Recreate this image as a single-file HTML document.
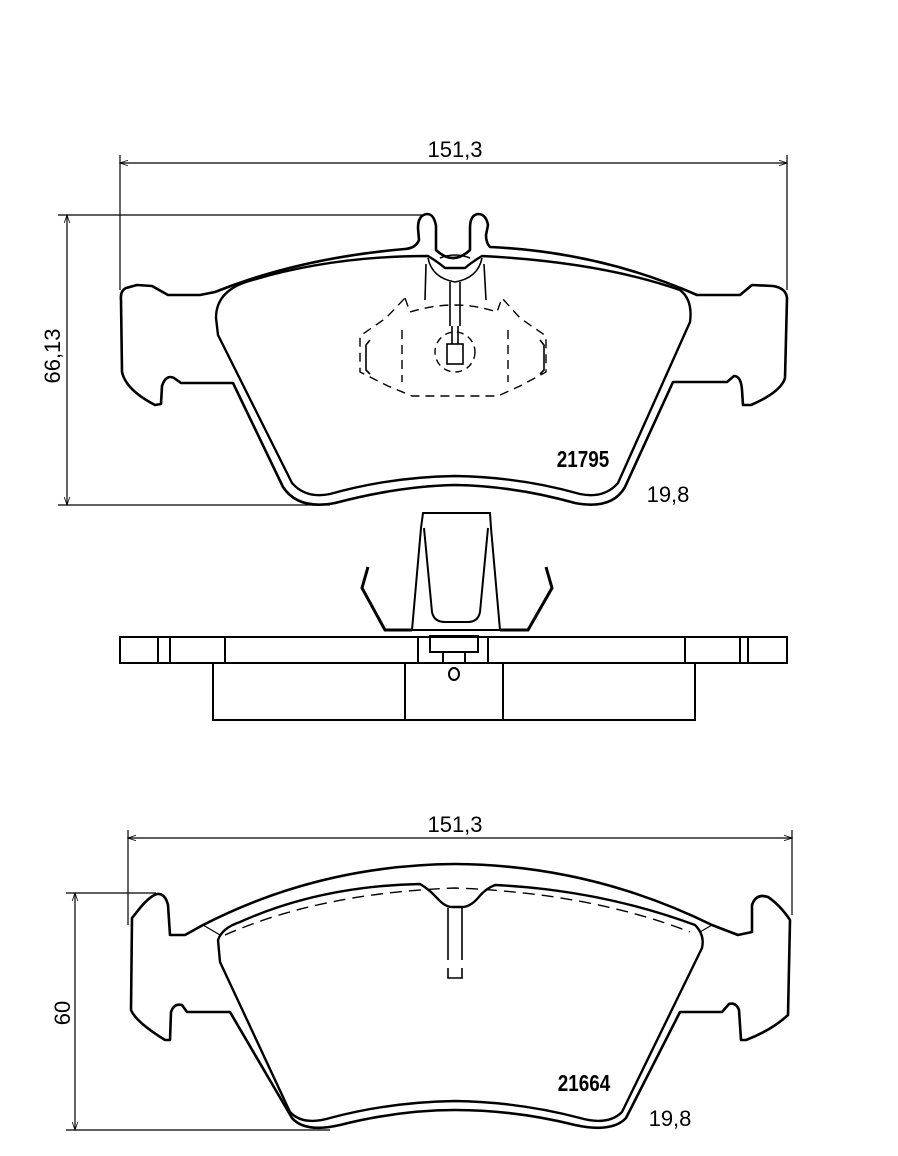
<!DOCTYPE html>
<html><head><meta charset="utf-8"><style>
html,body{margin:0;padding:0;background:#fff;}
svg{display:block;}
text{font-family:"Liberation Sans",sans-serif;fill:#000;}
</style></head><body>
<svg width="898" height="1156" viewBox="0 0 898 1156" xmlns="http://www.w3.org/2000/svg">
<defs>
<marker id="a" viewBox="0 0 10 10" refX="10" refY="5" markerWidth="10" markerHeight="8" orient="auto-start-reverse" markerUnits="userSpaceOnUse"><path d="M0,1.5 L10,5 L0,8.5" fill="none" stroke="#000" stroke-width="1"/></marker>
</defs>
<g fill="none" stroke="#000">
<line x1="120" y1="163" x2="787" y2="163" stroke-width="1.2" marker-start="url(#a)" marker-end="url(#a)"/>
<line x1="120" y1="155" x2="120" y2="290" stroke-width="1.2"/>
<line x1="787" y1="155" x2="787" y2="290" stroke-width="1.2"/>
<line x1="67" y1="215" x2="67" y2="505" stroke-width="1.2" marker-start="url(#a)" marker-end="url(#a)"/>
<line x1="58" y1="215" x2="425" y2="215" stroke-width="1.2"/>
<line x1="58" y1="505" x2="330" y2="505" stroke-width="1.2"/>

<path stroke-width="2.6" stroke-linejoin="round" d="M137,285 L126,288 Q120,291 121,300 L122,372 Q126,390 155,405 L161,404 L162,386 Q166,374 174,378 L181,383 L233,383 L283,487 Q298,510 335,503 Q400,486 455,485 Q515,486 575,503 Q612,510 625,487 L673,382 L727,382 L734,376 Q741,376 742,390 L743,405 L751,405 Q781,392 785,378 L787,298 Q786,288 773,286 L752,285 L740,295 L697,295 Q600,252 490,247 Q486,243 486,235 L488,225 Q486,214 478,214 Q470,215 470,228 L470,250 Q453,266 436,250 L436,226 Q434,214 427,214 Q418,215 418,228 L419,240 Q416,248 405,249 Q300,258 215,292 L200,295 L168,295 L152,286 Z"/>
<path stroke-width="2.4" stroke-linejoin="round" d="M216,318 Q216,292 246,282 Q330,256 428,256 Q438,262 445,268 L465,268 Q472,262 482,256 Q600,262 680,290 Q693,300 690,322 L618,483 Q604,499 580,494 Q520,477 455,476 Q390,477 330,494 Q306,499 292,483 L218,335 Z"/>
<path stroke-width="1.6" d="M428,258 Q432,278 455,282 Q478,278 482,258"/>
<path stroke-width="1.6" d="M440,258 Q455,252 470,258"/>
<path stroke-width="1.6" d="M450,282 L450,326 M460,282 L460,326"/>
<path stroke-width="1.6" d="M426,264 L425,300 M484,264 L486,300"/>
<g stroke-width="1.4" stroke-dasharray="9,6">
<path d="M405,298 L410,312 Q455,298 497,312 L502,298 L520,318 L546,336 L546,372 L520,386 L498,396 L412,396 L388,386 L360,372 L360,336 L386,318 Z"/>
<path d="M402,330 L402,382 M508,330 L508,382"/>
<circle cx="455" cy="352" r="20" stroke-dasharray="7,5"/>
</g>
<rect x="447" y="344" width="16" height="20" stroke-width="1.6"/>
<path stroke-width="1.6" d="M452,326 L452,344 M458,326 L458,344"/>
<path stroke-width="1.6" d="M370,340 L366,345 L366,370 L370,374 M540,340 L544,345 L544,370 L540,374"/>
</g>
<text x="455" y="157" font-size="22" text-anchor="middle">151,3</text>
<text x="0" y="0" font-size="22" text-anchor="middle" transform="translate(60,356) rotate(-90)">66,13</text>
<text x="583" y="467" font-size="23" font-weight="bold" text-anchor="middle" transform="translate(583,0) scale(0.82,1) translate(-583,0)">21795</text>
<text x="668" y="502" font-size="22" text-anchor="middle">19,8</text>

<g fill="none" stroke="#000" stroke-width="2">
<rect x="120" y="637" width="667" height="26"/>
<path d="M158,637V663 M170,637V663 M225,637V663 M418,637V663 M488,637V663 M685,637V663 M740,637V663 M748,637V663"/>
<rect x="213" y="663" width="482" height="57"/>
<path d="M405,663V720 M503,663V720"/>
<rect x="430" y="636" width="48" height="16"/>
<rect x="443" y="652" width="22" height="11"/>
<ellipse cx="454" cy="674" rx="5" ry="6"/>
<path d="M423,513 L490,513 L491,528 L500,630 L412,630 L421,528 Z"/>
<path d="M424,528 L432,612 Q434,622 445,622 L468,622 Q478,622 480,612 L488,528"/>
<path d="M368,567 L362,588 L385,630 L412,630 M546,567 L552,588 L528,630 L500,630" stroke-width="3"/>
</g>

<g fill="none" stroke="#000">
<line x1="128" y1="838" x2="792" y2="838" stroke-width="1.2" marker-start="url(#a)" marker-end="url(#a)"/>
<line x1="128" y1="830" x2="128" y2="925" stroke-width="1.2"/>
<line x1="792" y1="830" x2="792" y2="915" stroke-width="1.2"/>
<line x1="75" y1="893" x2="75" y2="1130" stroke-width="1.2" marker-start="url(#a)" marker-end="url(#a)"/>
<line x1="66" y1="893" x2="156" y2="893" stroke-width="1.2"/>
<line x1="66" y1="1130" x2="330" y2="1130" stroke-width="1.2"/>

<path stroke-width="2.6" stroke-linejoin="round" d="M157,894 Q150,896 140,908 L132,918 L131,1010 Q136,1022 165,1040 L170,1040 L171,1012 Q174,1003 182,1005 L187,1012 L230,1012 L292,1118 Q305,1133 340,1125 Q400,1110 455,1110 Q515,1110 575,1125 Q612,1133 626,1118 L680,1012 L722,1012 L729,1004 Q736,1002 739,1010 L741,1040 L746,1040 Q772,1030 788,1015 L790,920 Q780,905 768,897 Q756,893 752,905 L752,932 L738,935 L712,925 Q590,865 455,864 Q320,865 203,925 L185,935 L170,935 L168,905 Q165,893 157,894 Z"/>
<path stroke-width="2.4" stroke-linejoin="round" d="M218,940 Q222,928 240,922 Q320,886 420,884 Q430,890 437,898 Q445,907 452,907 L462,907 Q470,907 478,898 Q485,889 495,885 Q600,890 695,925 Q705,935 702,948 L622,1112 Q608,1126 580,1118 Q520,1102 455,1101 Q390,1102 330,1118 Q303,1126 290,1112 L220,962 Z"/>
<path stroke-width="1.4" stroke-dasharray="12,7" d="M225,935 Q320,893 455,888 Q590,893 690,932"/>
<path stroke-width="1.2" d="M203,925 L220,935 M712,925 L700,932"/>
<path stroke-width="1.6" d="M448,908 L448,960 M462,908 L462,960 M448,968 L448,978 L462,978 L462,968"/>
</g>
<text x="455" y="832" font-size="22" text-anchor="middle">151,3</text>
<text x="0" y="0" font-size="22" text-anchor="middle" transform="translate(70,1013) rotate(-90)">60</text>
<text x="584" y="1091" font-size="23" font-weight="bold" text-anchor="middle" transform="translate(584,0) scale(0.82,1) translate(-584,0)">21664</text>
<text x="670" y="1126" font-size="22" text-anchor="middle">19,8</text>
</svg>
</body></html>
